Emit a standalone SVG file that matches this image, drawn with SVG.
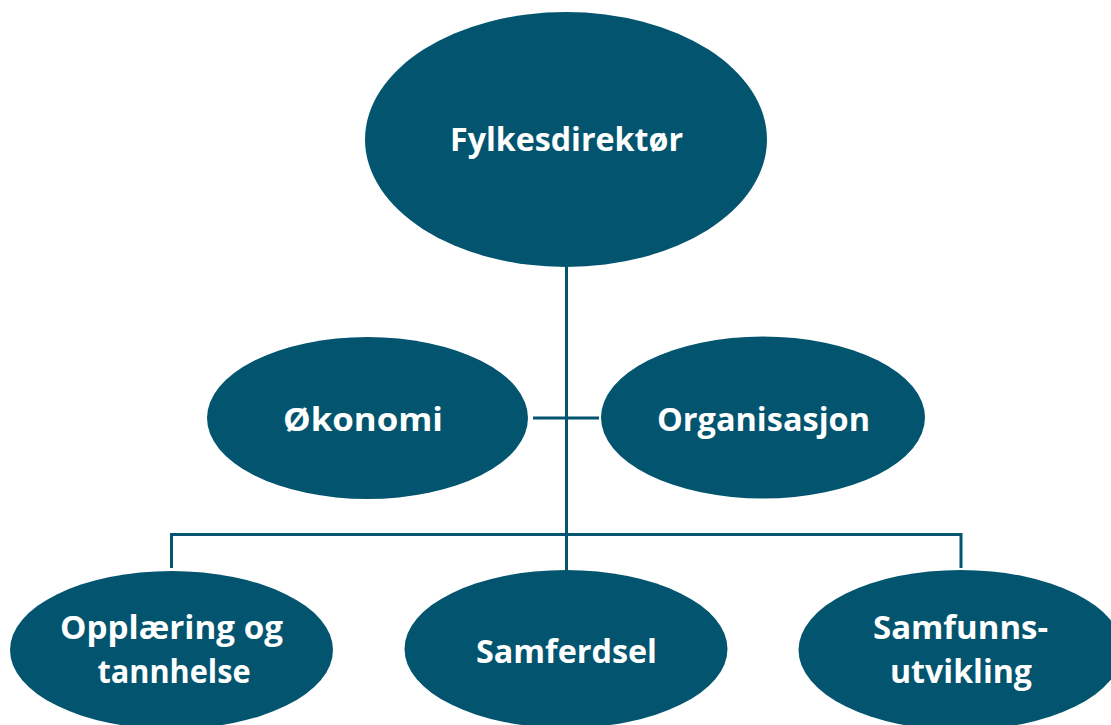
<svg xmlns="http://www.w3.org/2000/svg" width="1111" height="725" viewBox="0 0 1111 725">
<style>
.node ellipse{fill:#03556f;}
.node text{fill:#ffffff;font-family:"Open Sans","Liberation Sans",sans-serif;font-weight:bold;font-size:33px;text-anchor:middle;}
.conn{stroke:#03556f;stroke-width:3;fill:none;}
</style>
<rect width="1111" height="725" fill="#ffffff"/>
<g id="connectors">
<line class="conn" x1="566.5" y1="266" x2="566.5" y2="572"/>
<line class="conn" x1="533" y1="418" x2="599" y2="418"/>
<polyline class="conn" points="171.5,568 171.5,534.5 961,534.5 961,568"/>
</g>
<g id="fylkesdirektor" class="node">
<ellipse cx="566" cy="139.5" rx="201" ry="127.5"/>
<text x="566.5" y="151" textLength="233" lengthAdjust="spacingAndGlyphs">Fylkesdirektør</text>
</g>
<g id="okonomi" class="node">
<ellipse cx="367.5" cy="418" rx="160.5" ry="81"/>
<text x="363" y="431" textLength="160" lengthAdjust="spacingAndGlyphs">Økonomi</text>
</g>
<g id="organisasjon" class="node">
<ellipse cx="763" cy="417.5" rx="162" ry="81"/>
<text x="763.5" y="431" textLength="213" lengthAdjust="spacingAndGlyphs">Organisasjon</text>
</g>
<g id="opplaering" class="node">
<ellipse cx="171.5" cy="650" rx="161.5" ry="79"/>
<text x="171.5" y="639" textLength="223" lengthAdjust="spacingAndGlyphs">Opplæring og</text>
<text x="174" y="683" textLength="153" lengthAdjust="spacingAndGlyphs">tannhelse</text>
</g>
<g id="samferdsel" class="node">
<ellipse cx="566" cy="649" rx="161.5" ry="79"/>
<text x="566.5" y="663" textLength="181" lengthAdjust="spacingAndGlyphs">Samferdsel</text>
</g>
<g id="samfunnsutvikling" class="node">
<ellipse cx="960.5" cy="650" rx="162" ry="80"/>
<text x="960.5" y="639" textLength="175" lengthAdjust="spacingAndGlyphs">Samfunns-</text>
<text x="961" y="683" textLength="142" lengthAdjust="spacingAndGlyphs">utvikling</text>
</g>
</svg>
